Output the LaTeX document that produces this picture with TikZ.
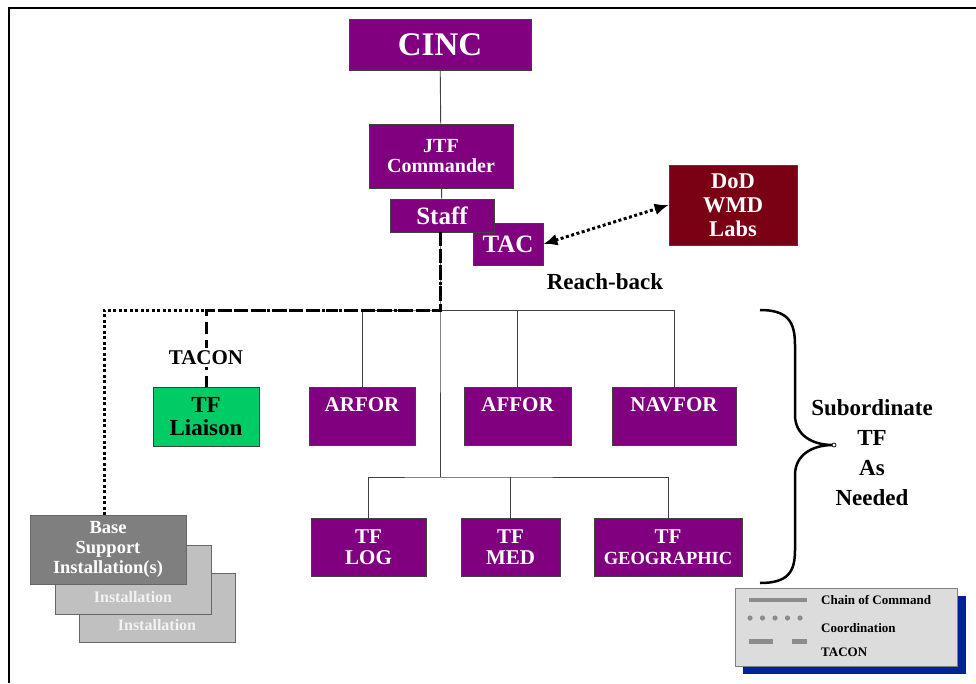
\documentclass[tikz,border=0pt]{standalone}
\usepackage{fontspec}
\setmainfont{Liberation Serif}
\usetikzlibrary{arrows.meta}

\definecolor{jtfpurple}{HTML}{800080}
\definecolor{labred}{HTML}{7A0014}
\definecolor{liaisongreen}{HTML}{00CC66}
\definecolor{basegray}{HTML}{7F7F7F}
\definecolor{instgray}{HTML}{C0C0C0}
\definecolor{keyblue}{HTML}{002299}
\definecolor{keygray}{HTML}{DCDCDC}
\definecolor{keyline}{HTML}{8C8C8C}

\newcommand{\bfs}[2]{\fontsize{#1}{#2}\selectfont\bfseries}

\begin{document}
\begin{tikzpicture}[x=1pt, y=-1pt,
			unit/.style={rectangle, draw=black!75, line width=0.8pt, fill=jtfpurple,
					text=white, align=center, inner sep=0pt},
			comp/.style={unit, minimum height=58pt, font=\bfs{21}{22}},
			tfunit/.style={unit, minimum height=58pt, font=\bfs{21}{21}},
			inst/.style={rectangle, draw=black!60, line width=0.8pt, fill=instgray,
					text=black!5, align=center, minimum width=156pt, minimum height=69pt,
					inner sep=0pt, font=\bfs{16}{18}},
			cmd/.style={line width=0.9pt, draw=black!75},
			coord/.style={line width=3pt, dash pattern=on 3pt off 2.5pt},
			tacon/.style={line width=3pt, dash pattern=on 12pt off 6pt},
			tlabel/.style={fill=white, inner sep=2pt, font=\bfs{21}{22}},
			keytext/.style={anchor=west, inner sep=0pt, font=\bfs{13}{14}},
		]
		\useasboundingbox (0,0) rectangle (976,683);
		% frame
		\draw[line width=2pt] (9,683) -- (9,8) -- (976,8);

		\node (cinc)  [unit, minimum width=182pt, minimum height=51pt, font=\bfs{33}{34}] at (440,44.5) {CINC};
		\node (jtf)   [unit, minimum width=144pt, minimum height=64pt, font=\bfs{20}{20}] at (441,156) {JTF\\Commander};
		\node (tac)   [unit, minimum width=70pt, minimum height=42pt, font=\bfs{25}{25}] at (508,244) {TAC};
		\node (staff) [unit, minimum width=104pt, minimum height=33pt, font=\bfs{25}{25}] at (442,215.5) {Staff};
		\node (labs)  [unit, fill=labred, minimum width=128pt, minimum height=80pt, font=\bfs{22.5}{24}] at (733,205) {DoD\\WMD\\Labs};
		\node (reach) [font=\bfs{23}{24}] at (605,282) {Reach-back};

		\node (liaison) [unit, fill=liaisongreen, text=black, minimum width=106pt, minimum height=59pt,
			font=\bfs{23}{23}] at (206,416.5) {TF\\Liaison};
		\node (arfor)  [comp, minimum width=106pt] at (362,416) {ARFOR\\~};
		\node (affor)  [comp, minimum width=107pt] at (517.5,416) {AFFOR\\~};
		\node (navfor) [comp, minimum width=124pt] at (674,416) {NAVFOR\\~};

		\node (tflog) [tfunit, minimum width=115pt] at (368.5,547) {TF\\LOG};
		\node (tfmed) [tfunit, minimum width=99pt] at (510.5,547) {TF\\MED};
		\node (tfgeo) [tfunit, minimum width=148pt] at (668,547) {TF\\{\fontsize{18.5}{21}\selectfont GEOGRAPHIC}};

		\node (inst2) [inst] at (157,607.5) {\vphantom{X}\\\vphantom{X}\\Installation};
		\node (inst1) [inst] at (133,579.5) {\vphantom{X}\\\vphantom{X}\\Installation};
		\node (base)  [inst, fill=basegray, text=white, font=\bfs{18.5}{20}] at (108,549.5) {Base\\Support\\Installation(s)};

		\coordinate (hub)   at (440,310);
		\coordinate (tfhub) at (440,477);
		\coordinate (cbend) at (104,310);
		\coordinate (tbend) at (206,310);

		% chain of command
		\draw [cmd] (cinc) -- (jtf);
		\draw [cmd] (jtf) -- (staff);
		\draw [cmd] (staff.south -| hub) -- (hub) -- (tfhub);
		\draw [cmd] (arfor.north) |- (hub) -| (affor.north);
		\draw [cmd] (hub) -| (navfor.north);
		\draw [cmd] (tflog.north) |- (tfhub) -| (tfgeo.north);
		\draw [cmd] (tfhub -| tfmed.north) -- (tfmed.north);

		% Staff -- Base Support : coordination
		\draw [coord] (staff.south -| hub) -- (hub) -- (cbend) -- (cbend |- base.north);
		% Staff -- TF Liaison : TACON
		\draw [tacon] (staff.south -| hub) -- (hub) -- (tbend)
		-- node[tlabel, pos=0.62]{TACON} (tbend |- liaison.north);
		% TAC <-> DoD WMD Labs : reach-back
		\draw [coord, {Latex[length=14pt,width=12pt]}-{Latex[length=14pt,width=12pt]}] (tac.east) -- (labs.west);

		% brace
		\draw [line width=2.5pt] (760,310) .. controls (788,310) and (795,322) .. (795,345)
		-- (795,415) .. controls (795,435) and (812,445) .. (833,445)
		.. controls (812,445) and (795,455) .. (795,475)
		-- (795,550) .. controls (795,572) and (788,583) .. (760,583);
		\draw [line width=0.7pt, fill=white] (834,445) circle (2);
		\node (subtf) [align=center, font=\bfs{23}{30}] at (872,453) {Subordinate\\TF\\As\\Needed};

		% key
		\fill [keyblue] (743,596) rectangle (966,674);
		\node (key) [rectangle, draw=black!50, line width=0.8pt, fill=keygray,
			minimum width=222pt, minimum height=78pt] at (846,627) {};
		\draw [keyline, line width=4.5pt] (749,600) -- (807,600);
		\foreach \x in {750,762.5,775,787.5,800}
		\fill [keyline] (\x,618) circle (2.6);
		\draw [keyline, line width=5pt] (749,641) -- (773,641);
		\draw [keyline, line width=5pt] (792,641) -- (807,641);
		\node [keytext] at (821,600) {Chain of Command};
		\node [keytext] at (821,628) {Coordination};
		\node [keytext] at (821,652) {TACON};
	\end{tikzpicture}
\end{document}
